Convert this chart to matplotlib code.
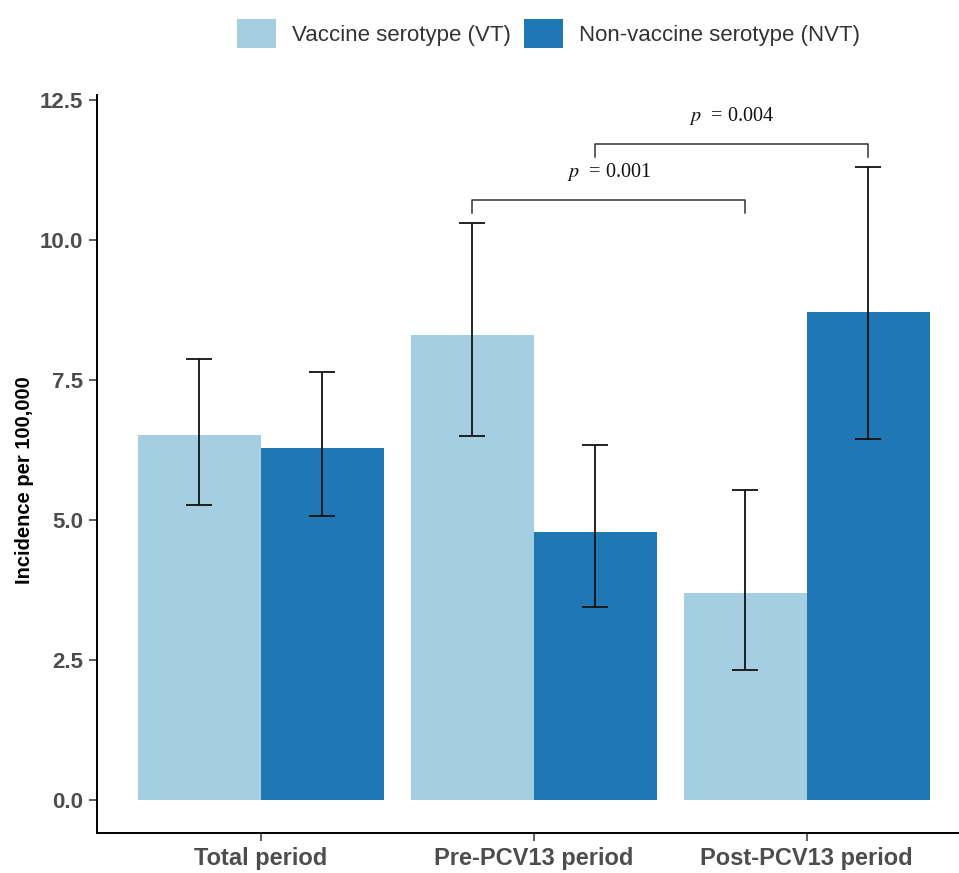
import matplotlib
matplotlib.use('Agg')
import matplotlib.pyplot as plt
import numpy as np

periods = ["Total period", "Pre-PCV13 period", "Post-PCV13 period"]
series = ["Vaccine serotype (VT)", "Non-vaccine serotype (NVT)"]
vt_rate = [6.51, 8.30, 3.70]
vt_low = [5.26, 6.50, 2.33]
vt_high = [7.88, 10.30, 5.53]
nvt_rate = [6.29, 4.79, 8.72]
nvt_low = [5.07, 3.44, 6.44]
nvt_high = [7.65, 6.34, 11.31]
p_labels = ["0.001", "0.004"]

plt.rcParams['font.family'] = ['Liberation Sans', 'DejaVu Sans']
plt.rcParams['mathtext.fontset'] = 'stix'

fig = plt.figure(figsize=(9.59, 8.73), dpi=100)
ax = fig.add_axes([97/959, 40/873, 1 - 97/959, 738/873])

x = np.arange(1, len(periods) + 1)
w = 0.45
colors = ['#a6cee3', '#1f78b4']

for vals, lo, hi, off, col, name in [(vt_rate, vt_low, vt_high, -w/2, colors[0], series[0]),
                                     (nvt_rate, nvt_low, nvt_high, w/2, colors[1], series[1])]:
    vals = np.array(vals)
    ax.bar(x + off, vals, width=w, color=col, label=name, zorder=1)
    yerr = [vals - np.array(lo), np.array(hi) - vals]
    ax.errorbar(x + off, vals, yerr=yerr, fmt='none', ecolor='#111111',
                elinewidth=1.3, capsize=9.7, capthick=1.3, zorder=3)

# significance brackets: pre vs post for VT, then for NVT
pairs = [(2 - w/2, 3 - w/2, 10.71), (2 + w/2, 3 + w/2, 11.71)]
for (x1, x2, yb), lab in zip(pairs, p_labels):
    ax.plot([x1, x1, x2, x2], [yb - 0.22, yb, yb, yb - 0.22], color='#333333', lw=1.1,
            clip_on=False)
    ax.text((x1 + x2) / 2, yb + 0.5, '$p$  = ' + lab, ha='center', va='center',
            fontsize=14.5, family='Liberation Serif', color='#111111')

ax.set_xlim(0.4, 0.4 + 862/273)
ax.set_ylim(-0.589, 12.59)
ax.set_xticks(x)
ax.set_xticklabels(periods)
ax.set_yticks([0, 2.5, 5, 7.5, 10, 12.5])
ax.set_yticklabels(['0.0', '2.5', '5.0', '7.5', '10.0', '12.5'])
for lab in ax.get_xticklabels():
    lab.set_fontsize(17)
    lab.set_fontweight('bold')
    lab.set_color('#4d4d4d')
for lab in ax.get_yticklabels():
    lab.set_fontsize(16)
    lab.set_fontweight('bold')
    lab.set_color('#4d4d4d')
ax.tick_params(axis='both', length=6, width=1.1, color='#333333', pad=4)

for s in ['top', 'right']:
    ax.spines[s].set_visible(False)
for s in ['left', 'bottom']:
    ax.spines[s].set_linewidth(1.4)
    ax.spines[s].set_color('black')

fig.text(25/959, 1 - 480/873, 'Incidence per 100,000', rotation=90, ha='center',
         va='center', fontsize=14.5, fontweight='bold', color='black')

leg = fig.legend(loc='center', bbox_to_anchor=(548.5/959, 1 - 33.5/873), ncol=2,
                 frameon=False, fontsize=16, handlelength=1.72, handleheight=1.67,
                 handletextpad=0.72, columnspacing=0.63, borderpad=0, borderaxespad=0)
for t in leg.get_texts():
    t.set_color('#333333')

fig.savefig('out.png', dpi=100)
